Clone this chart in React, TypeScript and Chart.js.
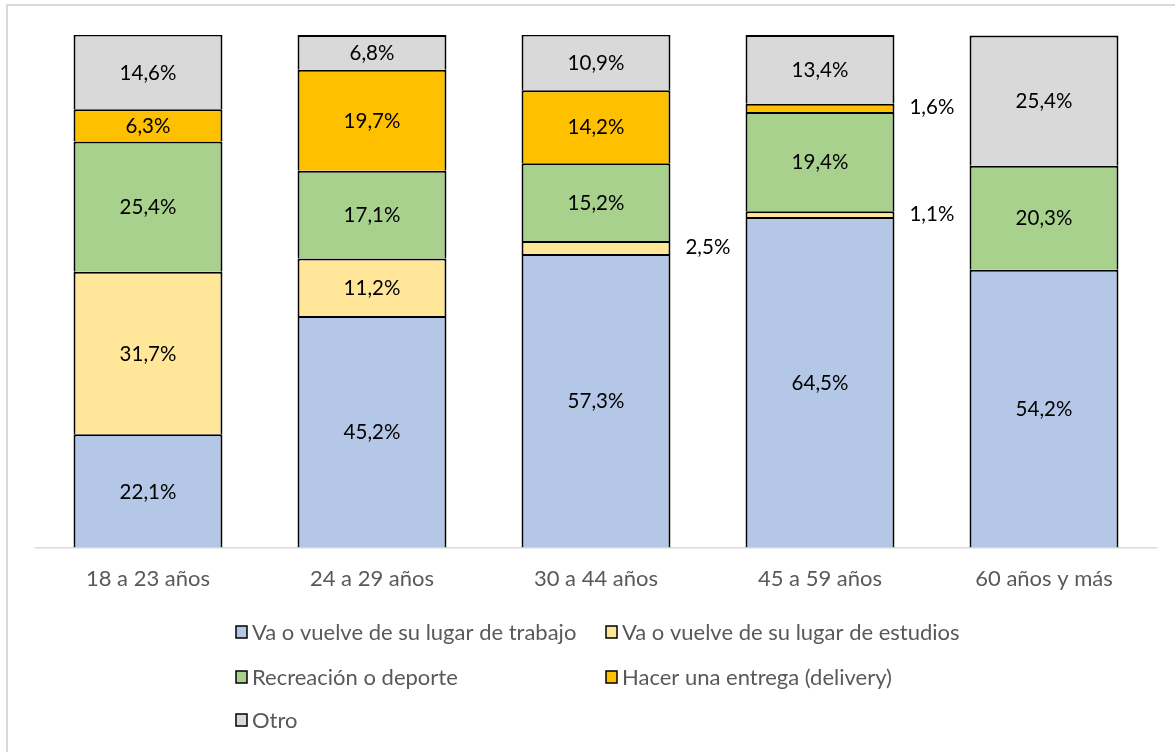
import React, { useEffect, useRef } from "react";
import { Chart, registerables } from "chart.js";

Chart.register(...registerables);

const categories = ["18 a 23 años", "24 a 29 años", "30 a 44 años", "45 a 59 años", "60 años y más"];
const seriesNames = [
  "Va o vuelve de su lugar de trabajo",
  "Va o vuelve de su lugar de estudios",
  "Recreación o deporte",
  "Hacer una entrega (delivery)",
  "Otro",
];
const trabajo = [22.1, 45.2, 57.3, 64.5, 54.2];
const estudios = [31.7, 11.2, 2.5, 1.1, null];
const recreacion = [25.4, 17.1, 15.2, 19.4, 20.3];
const delivery = [6.3, 19.7, 14.2, 1.6, null];
const otro = [14.6, 6.8, 10.9, 13.4, 25.4];
const colors = ["#B4C7E7", "#FFE699", "#A9D18E", "#FFC000", "#D9D9D9"];

const FONT = "Lato, 'Open Sans', sans-serif";

const labelPlugin = {
  id: "segLabels",
  afterDatasetsDraw(chart: any) {
    const ctx = chart.ctx;
    ctx.save();
    ctx.font = `20.5px ${FONT}`;
    ctx.fillStyle = "#000000";
    ctx.textBaseline = "middle";
    chart.data.datasets.forEach((ds: any, di: number) => {
      const meta = chart.getDatasetMeta(di);
      meta.data.forEach((bar: any, i: number) => {
        const v = ds.data[i];
        if (v == null || v === 0) return;
        const p = bar.getProps(["x", "y", "base", "width"], true);
        const label = v.toFixed(1).replace(".", ",") + "%";
        const cy = (p.y + p.base) / 2;
        if (v < 3) {
          ctx.textAlign = "left";
          ctx.fillText(label, p.x + p.width / 2 + 15, cy);
        } else {
          ctx.textAlign = "center";
          ctx.fillText(label, p.x, cy + 1);
        }
      });
    });
    ctx.restore();
  },
};

const legendPlugin = {
  id: "gridLegend",
  afterDraw(chart: any) {
    const ctx = chart.ctx;
    const cols = [236, 606];
    const rows = [632, 677, 720];
    ctx.save();
    ctx.font = `22px ${FONT}`;
    ctx.textBaseline = "middle";
    ctx.textAlign = "left";
    chart.data.datasets.forEach((ds: any, i: number) => {
      const x = cols[i % 2];
      const y = rows[Math.floor(i / 2)];
      ctx.fillStyle = ds.backgroundColor;
      ctx.fillRect(x, y - 6, 11, 12);
      ctx.strokeStyle = "#000000";
      ctx.lineWidth = 1.5;
      ctx.strokeRect(x, y - 6, 11, 12);
      ctx.fillStyle = "#595959";
      ctx.fillText(ds.label, x + 16, y + 1);
    });
    ctx.restore();
  },
};

export default function App() {
  const ref = useRef<HTMLCanvasElement>(null);
  useEffect(() => {
    const seriesData = [trabajo, estudios, recreacion, delivery, otro];
    const chart = new Chart(ref.current!, {
      type: "bar",
      data: {
        labels: categories,
        datasets: seriesNames.map((name, i) => ({
          label: name,
          data: seriesData[i] as any,
          backgroundColor: colors[i],
          borderColor: "#000000",
          borderWidth: 2,
          barPercentage: 0.665,
          categoryPercentage: 1,
        })),
      },
      options: {
        animation: false,
        responsive: false,
        maintainAspectRatio: false,
        layout: { padding: { left: 36, right: 19, top: 35, bottom: 142 } },
        plugins: { legend: { display: false }, tooltip: { enabled: false }, title: { display: false } },
        scales: {
          x: {
            stacked: true,
            grid: { display: false, drawTicks: false },
            border: { display: true, color: "#D9D9D9", width: 1.5 },
            ticks: { color: "#595959", font: { family: FONT, size: 22 }, padding: 18 },
          },
          y: {
            stacked: true,
            display: false,
            min: 0,
            max: 100,
          },
        },
      },
      plugins: [labelPlugin, legendPlugin],
    });
    return () => chart.destroy();
  }, []);
  return (
    <div style={{ position: "fixed", left: 0, top: 0, width: 1175, height: 752, overflow: "hidden", background: "#fff" }}>
      <div
        style={{
          position: "absolute",
          left: 6,
          top: 4,
          width: 1300,
          height: 900,
          borderLeft: "2px solid #D9D9D9",
          borderTop: "2px solid #D9D9D9",
        }}
      />
      <canvas ref={ref} width={1175} height={752} style={{ position: "absolute", left: 0, top: 0, width: 1175, height: 752 }} />
    </div>
  );
}
